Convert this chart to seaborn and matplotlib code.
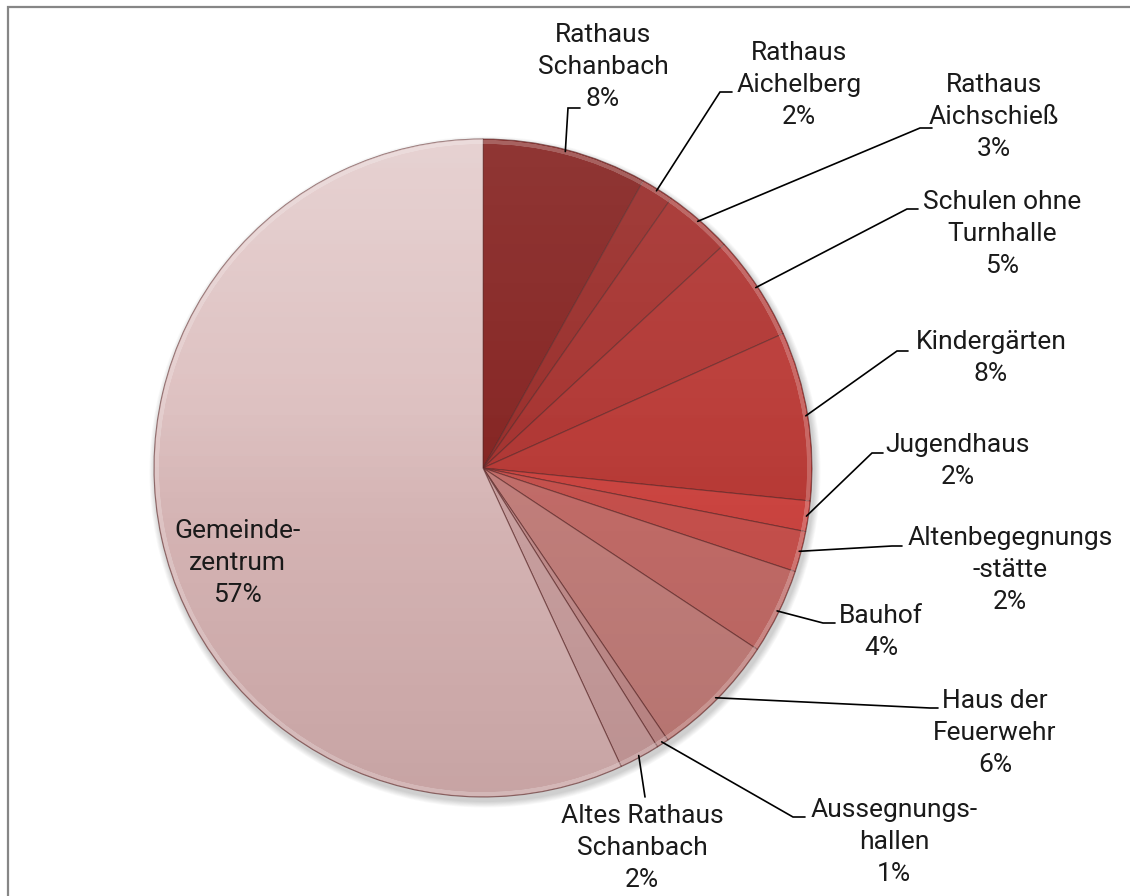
import numpy as np
import matplotlib
matplotlib.use("Agg")
import matplotlib.pyplot as plt
from matplotlib.patches import Rectangle, Circle, Wedge
import seaborn as sns

# Energy consumption share per municipal building
categories = [
    "Rathaus\nSchanbach", "Rathaus\nAichelberg", "Rathaus\nAichschieß",
    "Schulen ohne\nTurnhalle", "Kindergärten", "Jugendhaus",
    "Altenbegegnungs\n-stätte", "Bauhof", "Haus der\nFeuerwehr",
    "Aussegnungs-\nhallen", "Altes Rathaus\nSchanbach", "Gemeinde-\nzentrum",
]
shares = [8.1, 1.6, 3.4, 5.2, 8.3, 1.5, 2.0, 4.2, 6.2, 0.6, 2.0, 56.9]
slice_colors = [
    "#862523", "#9A2E2B", "#A63330", "#B13734", "#BA3B37", "#CE4642",
    "#C8524E", "#C46E6A", "#C4827E", "#C49190", "#CCA4A4", "#DABABA",
]

# Label placement (pixel coords, y measured from top): text centre,
# leader elbow and end of the short horizontal stub.
label_xy = [(603, 67), (799, 85), (994, 117), (1002, 234), (991, 358),
            (958, 461), (1010, 570), (881, 632), (995, 733), (894, 842),
            (642, 848), (237, 563)]
leader = [(568, 108, 580), (720, 92, 732), (920, 128, 932), (907, 209, 918),
          (897, 351, 908), (872, 453, 883), (892, 546, 902), (823, 623, 835),
          (930, 708, 938), (793, 817, 805), (645, 797, 645), None]

W, H = 1130, 896
sns.set_theme(style="white")
plt.rcParams["font.family"] = ["Roboto", "DejaVu Sans"]

fig = plt.figure(figsize=(W / 100, H / 100), dpi=100)
ax = fig.add_axes([0, 0, 1, 1])

cx, cy, R = 483, H - 468, 329
palette = sns.color_palette(slice_colors)

# soft drop shadow
for k in range(8):
    ax.add_patch(Circle((cx + 2, cy - 4), R + 1 + k * 0.8, color="black",
                        alpha=0.025, lw=0, zorder=0))

wedges, _ = ax.pie(shares, colors=palette, startangle=90, counterclock=False,
                   center=(cx, cy), radius=R, frame=True,
                   wedgeprops=dict(edgecolor=(0.35, 0.15, 0.15, 0.6),
                                   linewidth=0.8, zorder=2))

# vertical light-to-dark shading: gentle over the whole pie,
# stronger highlight on the large pale slice
n = 400
t = np.linspace(0, 1, n)  # 0 top, 1 bottom
ext = (cx - R, cx + R, cy - R, cy + R)
big = wedges[-1]
shading = [
    ((1, 1, 1), 0.08 * np.clip(1 - t / 0.6, 0, 1), Circle((cx, cy), R, transform=ax.transData)),
    ((0.25, 0, 0), 0.12 * np.clip((t - 0.4) / 0.6, 0, 1), Circle((cx, cy), R, transform=ax.transData)),
    ((1, 1, 1), 0.30 * np.clip(1 - t / 0.6, 0, 1), big),
]
for rgb, alpha, clip in shading:
    layer = np.zeros((n, 1, 4))
    layer[:, 0, :3] = rgb
    layer[:, 0, 3] = alpha
    im = ax.imshow(layer, extent=ext, aspect="auto", zorder=3,
                   interpolation="bilinear")
    im.set_clip_path(clip)

# rim highlight on each wedge
for w in wedges:
    ax.add_patch(Wedge((cx, cy), R - 3, w.theta1, w.theta2, width=0,
                       fill=False, edgecolor=(1, 1, 1, 0.22), lw=2.5,
                       zorder=4))

for w, name, val, (lx, ly), ld in zip(wedges, categories, shares, label_xy, leader):
    text = f"{name}\n{val:.0f}%"
    ax.text(lx, H - ly, text, ha="center", va="center", fontsize=19,
            color="#1a1a1a", linespacing=1.43, zorder=6)
    if ld is None:
        continue
    mid = np.deg2rad((w.theta1 + w.theta2) / 2)
    ax_, ay_ = cx + (R - 2) * np.cos(mid), cy + (R - 2) * np.sin(mid)
    ex, ey, sx = ld
    ax.plot([ax_, ex, sx], [ay_, H - ey, H - ey], color="black", lw=1.2,
            solid_joinstyle="miter", zorder=5)

ax.set_xlim(0, W)
ax.set_ylim(0, H)
ax.set_aspect("equal")
ax.axis("off")

# outer frame (right and bottom sides run past the canvas)
fig.patches.append(Rectangle((7.5 / W, -0.1), 1.2, (H - 7.5) / H + 0.1,
                             transform=fig.transFigure, fill=False,
                             edgecolor="#868686", lw=1.6))

fig.savefig("out.png", dpi=100)
